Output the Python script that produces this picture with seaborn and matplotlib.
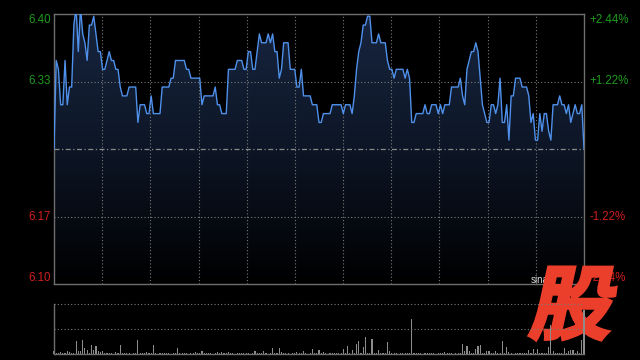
import numpy as np
import matplotlib
matplotlib.use("Agg")
import matplotlib.pyplot as plt
import seaborn as sns
from matplotlib.colors import LinearSegmentedColormap
from matplotlib.textpath import TextPath
from matplotlib.patches import PathPatch
from matplotlib.font_manager import FontProperties
from matplotlib.transforms import Affine2D, IdentityTransform, blended_transform_factory

# ---------------- data ----------------
prev_close = 6.25
minutes = list(range(241))
price = [
    6.25, 6.35, 6.34, 6.30, 6.30, 6.35, 6.30, 6.32, 6.32, 6.39,
    6.41, 6.36, 6.41, 6.38, 6.37, 6.35, 6.39, 6.39, 6.40, 6.38,
    6.36, 6.36, 6.34, 6.34, 6.35, 6.36, 6.35, 6.35, 6.34, 6.34,
    6.32, 6.31, 6.31, 6.31, 6.32, 6.32, 6.32, 6.32, 6.28, 6.30,
    6.30, 6.30, 6.29, 6.29, 6.31, 6.29, 6.29, 6.29, 6.29, 6.32,
    6.32, 6.32, 6.32, 6.33, 6.33, 6.35, 6.35, 6.35, 6.35, 6.35,
    6.34, 6.34, 6.33, 6.33, 6.33, 6.33, 6.33, 6.30, 6.31, 6.31,
    6.31, 6.31, 6.31, 6.32, 6.30, 6.30, 6.29, 6.29, 6.29, 6.34,
    6.34, 6.34, 6.34, 6.35, 6.35, 6.35, 6.34, 6.34, 6.36, 6.36,
    6.34, 6.34, 6.36, 6.38, 6.37, 6.37, 6.37, 6.38, 6.37, 6.38,
    6.36, 6.36, 6.33, 6.34, 6.37, 6.37, 6.37, 6.34, 6.34, 6.34,
    6.32, 6.32, 6.34, 6.31, 6.31, 6.31, 6.31, 6.30, 6.30, 6.30,
    6.28, 6.28, 6.29, 6.29, 6.29, 6.29, 6.30, 6.30, 6.30, 6.30,
    6.30, 6.29, 6.30, 6.30, 6.30, 6.29, 6.31, 6.34, 6.36, 6.37,
    6.39, 6.39, 6.40, 6.40, 6.37, 6.37, 6.37, 6.38, 6.37, 6.37,
    6.37, 6.35, 6.34, 6.34, 6.33, 6.34, 6.34, 6.34, 6.34, 6.33,
    6.34, 6.33, 6.28, 6.28, 6.29, 6.29, 6.29, 6.29, 6.30, 6.29,
    6.29, 6.30, 6.30, 6.30, 6.29, 6.30, 6.29, 6.30, 6.30, 6.30,
    6.32, 6.32, 6.32, 6.32, 6.33, 6.31, 6.30, 6.34, 6.35, 6.36,
    6.36, 6.37, 6.36, 6.33, 6.30, 6.29, 6.28, 6.28, 6.30, 6.30,
    6.29, 6.30, 6.33, 6.28, 6.28, 6.30, 6.26, 6.31, 6.31, 6.33,
    6.33, 6.33, 6.32, 6.32, 6.32, 6.31, 6.28, 6.29, 6.26, 6.26,
    6.29, 6.27, 6.29, 6.29, 6.27, 6.26, 6.30, 6.30, 6.30, 6.31,
    6.30, 6.30, 6.29, 6.30, 6.28, 6.29, 6.30, 6.29, 6.29, 6.30,
    6.25,
]
volume = [
    300, 90, 60, 230, 80, 100, 330, 170, 70, 120,
    1270, 270, 270, 1430, 600, 430, 90, 930, 430, 830,
    330, 200, 330, 70, 110, 60, 90, 50, 230, 80,
    930, 60, 100, 70, 120, 50, 90, 60, 1430, 110,
    70, 90, 230, 60, 100, 930, 80, 50, 120, 70,
    90, 60, 110, 50, 80, 100, 630, 70, 60, 90,
    120, 50, 80, 100, 230, 60, 90, 330, 70, 110,
    60, 80, 50, 100, 230, 70, 170, 90, 60, 230,
    80, 110, 50, 90, 70, 120, 60, 100, 80, 50,
    110, 300, 70, 90, 60, 330, 80, 50, 100, 630,
    70, 90, 570, 170, 60, 110, 80, 50, 90, 70,
    170, 60, 100, 330, 80, 50, 90, 530, 70, 110,
    430, 60, 200, 80, 50, 100, 70, 90, 60, 120,
    80, 530, 60, 830, 90, 430, 110, 1030, 1330, 150,
    670, 1730, 120, 90, 1530, 100, 80, 430, 70, 110,
    90, 1170, 330, 60, 100, 80, 50, 90, 70, 120,
    60, 100, 3500, 150, 80, 60, 110, 50, 90, 70,
    100, 60, 80, 50, 120, 70, 90, 170, 60, 100,
    80, 50, 110, 70, 90, 1030, 270, 770, 270, 60,
    100, 500, 830, 930, 80, 60, 270, 330, 90, 70,
    330, 110, 60, 1330, 90, 670, 200, 80, 50, 100,
    70, 90, 60, 120, 80, 430, 100, 500, 70, 530,
    60, 90, 80, 110, 670, 2930, 330, 70, 100, 60,
    90, 600, 80, 270, 430, 430, 70, 330, 90, 1430,
    4400,
]
pct_levels = [0.0244, 0.0122, -0.0122, -0.0244]
left_labels = ["6.40", "6.33", "6.17", "6.10"]
right_labels = ["+2.44%", "+1.22%", "-1.22%", "-2.44%"]
vol_max = 5000

# ---------------- style ----------------
sns.set_theme(style="dark", rc={
    "figure.facecolor": "black", "axes.facecolor": "black",
    "savefig.facecolor": "black",
})
plt.rcParams["font.family"] = ["Liberation Sans", "DejaVu Sans"]

GREEN = "#1f9a1f"
RED = "#d21e1e"
GRID = "#7a7a7a"
SPINE = "#6e6e6e"
LINE = "#4f90ea"
LOGO = "#ec3f2b"

fig = plt.figure(figsize=(6.4, 3.6), dpi=100)
ax = fig.add_axes([54 / 640, 76 / 360, 530 / 640, 270 / 360])
vax = fig.add_axes([54 / 640, 6 / 360, 530 / 640, 50 / 360])
vax.set_facecolor("none")

ymax = prev_close * (1 + pct_levels[0])
ymin = prev_close * (1 + pct_levels[-1])

# gradient fill under price line
poly = ax.fill_between(minutes, price, ymin, facecolor="none", edgecolor="none")
cmap = LinearSegmentedColormap.from_list("g", ["#000000", "#0d1626", "#17253f"])
grad = np.linspace(0, 1, 256).reshape(-1, 1)
im = ax.imshow(grad, extent=[0, 240, ymin, ymax], aspect="auto", cmap=cmap,
               origin="lower", zorder=1, interpolation="bilinear")
im.set_clip_path(poly.get_paths()[0], transform=ax.transData)

# grid
for k in range(1, 11):
    ax.axvline(k * 240 / 11, color=GRID, lw=0.8, ls=(0, (1, 2)), zorder=2)
for p in (pct_levels[1], pct_levels[2]):
    ax.axhline(prev_close * (1 + p), color=GRID, lw=0.8, ls=(0, (1, 2)), zorder=2)
ax.axhline(prev_close, color="#8a8a8a", lw=0.9, ls=(0, (4, 2, 1, 2)), zorder=2)

sns.lineplot(x=minutes, y=price, ax=ax, color=LINE, linewidth=1.0, zorder=3)

ax.set_xlim(0, 240)
ax.set_ylim(ymin, ymax)
ax.set_xticks([])
ax.set_yticks([])
ax.set_xlabel("")
ax.set_ylabel("")
for s in ax.spines.values():
    s.set_visible(True)
    s.set_color(SPINE)
    s.set_linewidth(1.0)

# axis labels
tr_left = blended_transform_factory(ax.transAxes, ax.transData)
vas = ["top", "center", "center", "bottom"]
for p, ll, rl, va in zip(pct_levels, left_labels, right_labels, vas):
    col = GREEN if p > 0 else RED
    yv = prev_close * (1 + p)
    ax.text(-0.006, yv, ll, transform=tr_left, ha="right", va=va,
            color=col, fontsize=8.3, zorder=5)
    ax.text(1.011, yv, rl, transform=tr_left, ha="left", va=va,
            color=col, fontsize=8.3, zorder=5)

# watermark text and logo
ax.text(531, 80, "sina", transform=IdentityTransform(), color="#d8d8d8",
        fontsize=7, ha="left", va="center", zorder=6, clip_on=False)
fp = FontProperties(family="Noto Sans CJK SC", weight="heavy")
tp = TextPath((0, 0), "股", size=100, prop=fp)
tp = Affine2D().skew_deg(12, 0).transform_path(tp)
ext = tp.get_extents()
sx = (616 - 529) / ext.width
sy = (93 - 20) / ext.height
tr = Affine2D().translate(-ext.x0, -ext.y0).scale(sx, sy).translate(529, 20)
logo = PathPatch(tr.transform_path(tp), facecolor=LOGO, edgecolor=LOGO,
                 linewidth=2.2, joinstyle="miter",
                 transform=IdentityTransform(), zorder=10, clip_on=False)
ax.add_artist(logo)

# volume
vax.bar(minutes, volume, width=0.5, color="#8c8c8c", linewidth=0, clip_on=False)
vax.axhline(vol_max / 2, color=GRID, lw=0.8, ls=(0, (1, 2)))
vax.axhline(vol_max, color=GRID, lw=0.8, ls=(0, (1, 2)), clip_on=False)
vax.set_xlim(0, 240)
vax.set_ylim(0, vol_max)
vax.set_xticks([])
vax.set_yticks([])
for name, s in vax.spines.items():
    if name in ("left", "bottom"):
        s.set_visible(True)
        s.set_color(SPINE)
        s.set_linewidth(1.0)
    else:
        s.set_visible(False)

fig.savefig("out.png", dpi=100, facecolor="black")
